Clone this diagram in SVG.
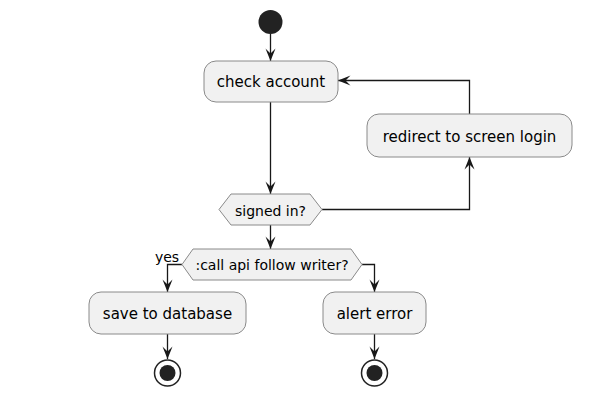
<svg xmlns="http://www.w3.org/2000/svg" width="605" height="403" viewBox="0 0 605 403">
<style>
.box{fill:#F1F1F1;stroke:#8a8a8a;stroke-width:1}
.t{font-family:"DejaVu Sans",sans-serif;font-size:15px;fill:#000;text-anchor:middle}
.ts{font-family:"DejaVu Sans",sans-serif;font-size:14px;fill:#000;text-anchor:middle}
.c{fill:none;stroke:#181818;stroke-width:1.3}
</style>
<defs>
<marker id="ah" viewBox="-13 -6 14 12" refX="0" refY="0" markerWidth="14" markerHeight="12" markerUnits="userSpaceOnUse" orient="auto">
<path d="M0,0 L-12.5,-5 L-7.5,0 L-12.5,5 Z" fill="#181818"/>
</marker>
</defs>
<rect width="605" height="403" fill="#fff"/>
<g id="connectors">
<path class="c" d="M270.5,34 V61" marker-end="url(#ah)"/>
<path class="c" d="M270.5,102 V194" marker-end="url(#ah)"/>
<path class="c" d="M322,209.5 H469.5 V157" marker-end="url(#ah)"/>
<path class="c" d="M469.5,114 V80.5 H338" marker-end="url(#ah)"/>
<path class="c" d="M270.5,225 V249" marker-end="url(#ah)"/>
<path class="c" d="M182,264.5 H167.5 V292" marker-end="url(#ah)"/>
<path class="c" d="M362,264.5 H374.5 V292" marker-end="url(#ah)"/>
<path class="c" d="M167.5,334 V359" marker-end="url(#ah)"/>
<path class="c" d="M374.5,334 V359" marker-end="url(#ah)"/>
</g>
<g id="start"><circle cx="270.5" cy="22" r="12" fill="#222"/></g>
<g id="check"><rect class="box" x="204" y="61" width="134" height="41" rx="12"/><text class="t" x="271" y="87">check account</text></g>
<g id="redirect"><rect class="box" x="367" y="114" width="205" height="43" rx="12"/><text class="t" x="469.5" y="141.5">redirect to screen login</text></g>
<g id="signed"><polygon class="box" points="219,209.5 231,194 310,194 322,209.5 310,225 231,225"/><text class="ts" x="270.5" y="215.5">signed in?</text></g>
<g id="callapi"><polygon class="box" points="182,264.5 193,249 351,249 362,264.5 351,280 193,280"/><text class="ts" x="272" y="270">:call api follow writer?</text><text class="ts" x="167" y="262">yes</text></g>
<g id="save"><rect class="box" x="89" y="292" width="157" height="42" rx="12"/><text class="t" x="167.5" y="319">save to database</text></g>
<g id="alert"><rect class="box" x="323" y="292" width="103" height="42" rx="12"/><text class="t" x="374.5" y="319">alert error</text></g>
<g id="end1"><circle cx="167.5" cy="373" r="13" fill="#fff" stroke="#222" stroke-width="1.5"/><circle cx="167.5" cy="373" r="8" fill="#222"/></g>
<g id="end2"><circle cx="374.5" cy="373" r="13" fill="#fff" stroke="#222" stroke-width="1.5"/><circle cx="374.5" cy="373" r="8" fill="#222"/></g>
</svg>
